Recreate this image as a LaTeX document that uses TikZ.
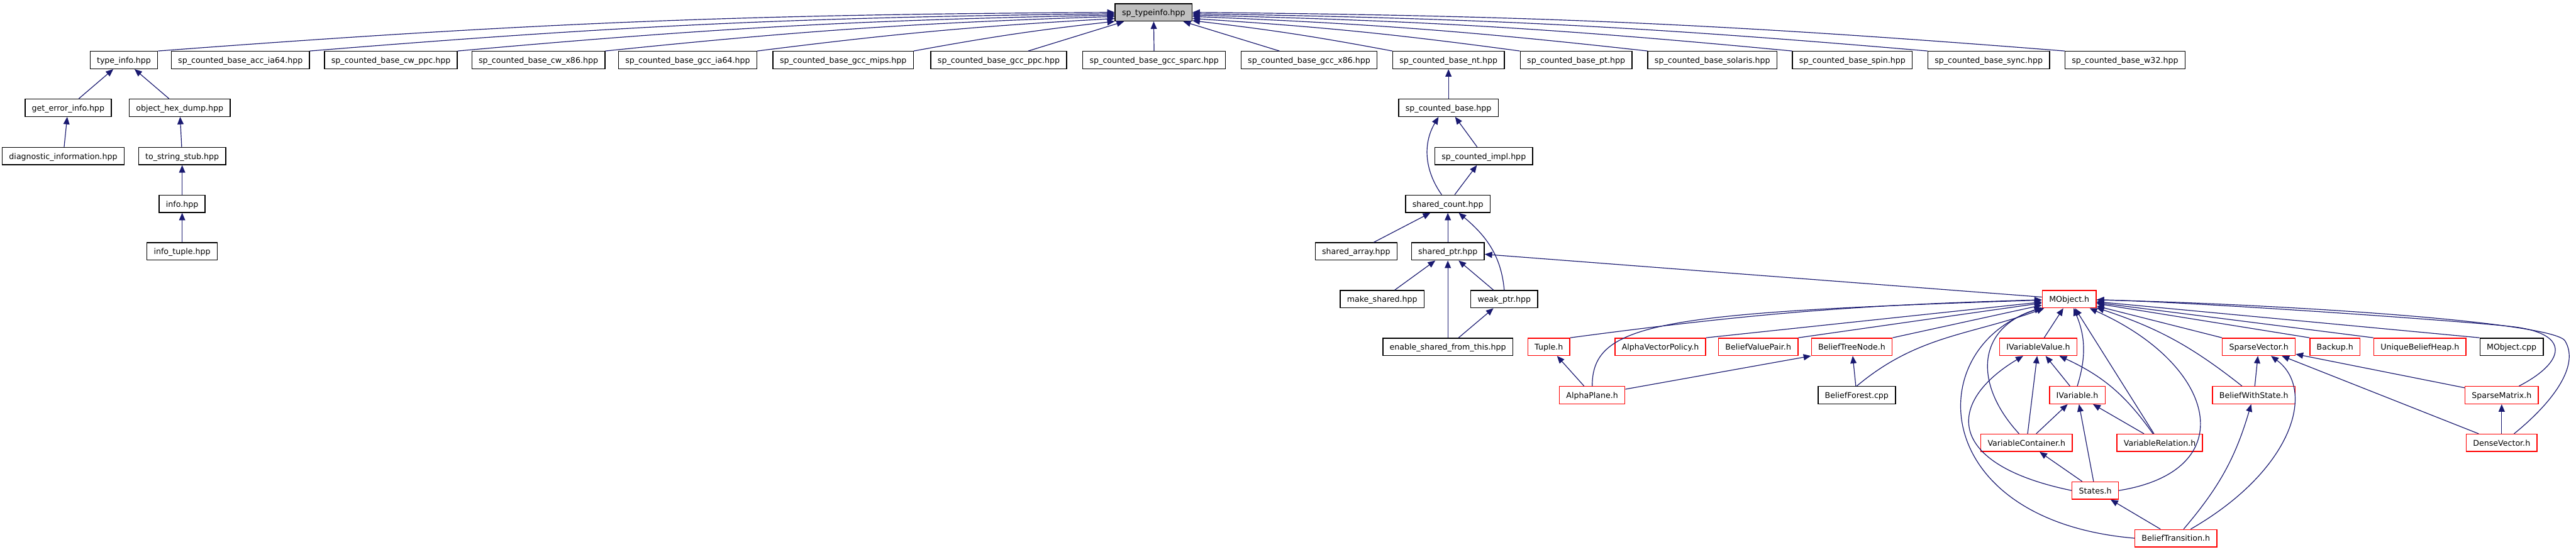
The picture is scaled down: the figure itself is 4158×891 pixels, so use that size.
\documentclass[tikz,border=0pt]{standalone}
\usepackage{fontspec}
\setmainfont{DejaVu Sans}
\usetikzlibrary{arrows.meta}

\definecolor{edgeblue}{HTML}{191970}
\definecolor{boxred}{HTML}{FF0000}
\definecolor{rootgrey}{HTML}{BFBFBF}

\tikzset{
  file/.style={draw=black, line width=0.7pt, inner xsep=5.5pt, inner ysep=0pt,
    minimum height=14pt, text height=0.75em, text depth=0.25em,
    font=\fontsize{6.4}{7.7}\selectfont},
  redfile/.style={file, draw=boxred},
  root/.style={file, fill=rootgrey},
  dep/.style={draw=edgeblue, line width=0.6pt, -{Triangle[length=6pt,width=5pt]}}
}

\begin{document}
\begin{tikzpicture}[x=0.5pt,y=-0.5pt]
  \useasboundingbox (0,0) rectangle (4158,891);

  \node[root] (spt) at (1862,20) {sp\_typeinfo.hpp};

  \node[file] (ti) at (200,97) {type\_info.hpp};
  \node[file] (acc) at (388,97) {sp\_counted\_base\_acc\_ia64.hpp};
  \node[file] (cwppc) at (631,97) {sp\_counted\_base\_cw\_ppc.hpp};
  \node[file] (cwx) at (869,97) {sp\_counted\_base\_cw\_x86.hpp};
  \node[file] (gia) at (1110,97) {sp\_counted\_base\_gcc\_ia64.hpp};
  \node[file] (gmips) at (1361,97) {sp\_counted\_base\_gcc\_mips.hpp};
  \node[file] (gppc) at (1612,97) {sp\_counted\_base\_gcc\_ppc.hpp};
  \node[file] (gsparc) at (1863,97) {sp\_counted\_base\_gcc\_sparc.hpp};
  \node[file] (gx) at (2113,97) {sp\_counted\_base\_gcc\_x86.hpp};
  \node[file] (nt) at (2338,97) {sp\_counted\_base\_nt.hpp};
  \node[file] (pt) at (2544,97) {sp\_counted\_base\_pt.hpp};
  \node[file] (sol) at (2764,97) {sp\_counted\_base\_solaris.hpp};
  \node[file] (spin) at (2990,97) {sp\_counted\_base\_spin.hpp};
  \node[file] (sync) at (3210,97) {sp\_counted\_base\_sync.hpp};
  \node[file] (w32) at (3430,97) {sp\_counted\_base\_w32.hpp};

  \node[file] (gei) at (110,174) {get\_error\_info.hpp};
  \node[file] (ohd) at (290,174) {object\_hex\_dump.hpp};
  \node[file] (diag) at (102,252) {diagnostic\_information.hpp};
  \node[file] (tss) at (294,252) {to\_string\_stub.hpp};
  \node[file] (info) at (294,329) {info.hpp};
  \node[file] (itup) at (294,406) {info\_tuple.hpp};

  \node[file] (scb) at (2338,174) {sp\_counted\_base.hpp};
  \node[file] (sci) at (2395,252) {sp\_counted\_impl.hpp};
  \node[file] (sc) at (2337,329) {shared\_count.hpp};
  \node[file] (sa) at (2189,406) {shared\_array.hpp};
  \node[file] (sp) at (2337,406) {shared\_ptr.hpp};
  \node[file] (ms) at (2231,483) {make\_shared.hpp};
  \node[file] (wp) at (2428,483) {weak\_ptr.hpp};
  \node[file] (esft) at (2337,560) {enable\_shared\_from\_this.hpp};

  \node[redfile] (mo) at (3340,483) {MObject.h};
  \node[redfile] (tu) at (2500,560) {Tuple.h};
  \node[redfile] (avp) at (2680,560) {AlphaVectorPolicy.h};
  \node[redfile] (bvp) at (2838,560) {BeliefValuePair.h};
  \node[redfile] (btn) at (2989,560) {BeliefTreeNode.h};
  \node[redfile] (ivv) at (3290,560) {IVariableValue.h};
  \node[redfile] (sv) at (3646,560) {SparseVector.h};
  \node[redfile] (bk) at (3769,560) {Backup.h};
  \node[redfile] (ubh) at (3906,560) {UniqueBeliefHeap.h};
  \node[file] (moc) at (4054,560) {MObject.cpp};
  \node[redfile] (ap) at (2570,638) {AlphaPlane.h};
  \node[file] (bf) at (2997,638) {BeliefForest.cpp};
  \node[redfile] (iv) at (3353,638) {IVariable.h};
  \node[redfile] (bws) at (3638,638) {BeliefWithState.h};
  \node[redfile] (sm) at (4038,638) {SparseMatrix.h};
  \node[redfile] (vc) at (3271,715) {VariableContainer.h};
  \node[redfile] (vr) at (3486,715) {VariableRelation.h};
  \node[redfile] (dv) at (4038,715) {DenseVector.h};
  \node[redfile] (st) at (3382,792) {States.h};
  \node[redfile] (bt) at (3512,869) {BeliefTransition.h};

  % everything that pulls in sp_typeinfo.hpp
  \draw[dep] (ti.north east) to[bend left=2] (spt.180);
  \draw[dep] (acc.north east) to[bend left=2] (spt.182);
  \draw[dep] (cwppc.north east) to[bend left=2] (spt.184);
  \draw[dep] (cwx.north east) to[bend left=2] (spt.186);
  \draw[dep] (gia.north east) to[bend left=2] (spt.189);
  \draw[dep] (gmips.north east) to[bend left=2] (spt.193);
  \draw[dep] (gppc) -- (spt);
  \draw[dep] (gsparc) -- (spt);
  \draw[dep] (gx) -- (spt);
  \draw[dep] (nt.north west) to[bend right=2] (spt.348);
  \draw[dep] (pt.north west) to[bend right=2] (spt.351);
  \draw[dep] (sol.north west) to[bend right=2] (spt.354);
  \draw[dep] (spin.north west) to[bend right=2] (spt.356);
  \draw[dep] (sync.north west) to[bend right=2] (spt.358);
  \draw[dep] (w32.north west) to[bend right=2] (spt.0);

  \draw[dep] (gei) -- (ti);
  \draw[dep] (ohd) -- (ti);
  \draw[dep] (diag) -- (gei);
  \draw[dep] (tss) -- (ohd);
  \draw[dep] (info) -- (tss);
  \draw[dep] (itup) -- (info);

  \draw[dep] (scb) -- (nt);
  \draw[dep] (sci) -- (scb);
  \draw[dep] ([xshift=-5pt]sc.north) to[bend left=33] ([xshift=-8pt]scb.south);
  \draw[dep] (sc) -- (sci);
  \draw[dep] (sa) -- (sc);
  \draw[dep] (sp) -- (sc);
  \draw[dep] (wp.north) to[out=95,in=-40] (sc);
  \draw[dep] (ms) -- (sp);
  \draw[dep] (esft) -- (sp);
  \draw[dep] (wp) -- (sp);
  \draw[dep] (esft) -- (wp);
  \draw[dep] (mo) -- (sp);

  % MObject.h and its users
  \draw[dep] (ap) -- (tu);
  \draw[dep] (tu.north east) to[bend left=3] (mo);
  \draw[dep] (ap.north) .. controls (2570,520) and (2680,505) .. (mo);
  \draw[dep] (avp.north east) -- (mo);
  \draw[dep] (bvp.north east) -- (mo);
  \draw[dep] (btn.north east) -- (mo);
  \draw[dep] (ap) -- (btn.south west);
  \draw[dep] (bf) -- (btn);
  \draw[dep] (bf.north) to[out=40,in=200] (mo);
  \draw[dep] (ivv) -- (mo);
  \draw[dep] (iv.north) to[bend right=20] (mo);
  \draw[dep] (iv) -- (ivv);
  \draw[dep] (vc) -- (ivv);
  \draw[dep] (vc) -- (iv);
  \draw[dep] ([xshift=-6pt]vc.north) .. controls (3185,620) and (3190,530) .. (mo);
  \draw[dep] (vr) to[bend right=15] (ivv);
  \draw[dep] (vr) -- (iv);
  \draw[dep] (vr) -- (mo);
  \draw[dep] (st) -- (iv);
  \draw[dep] (st) -- (vc);
  \draw[dep] (st.west) .. controls (3140,750) and (3140,650) .. (ivv);
  \draw[dep] (st.east) .. controls (3620,760) and (3580,590) .. (mo);
  \draw[dep] (bt) -- (st);
  \draw[dep] (bt.west) .. controls (3110,840) and (3100,560) .. (mo);
  \draw[dep] (bt) to[bend right=12] (bws);
  \draw[dep] ([xshift=12pt]bt.north) .. controls (3700,760) and (3740,630) .. (sv);
  \draw[dep] (bws) -- (sv);
  \draw[dep] (bws) to[bend right=10] (mo);
  \draw[dep] (sm) -- (sv);
  \draw[dep] (dv) -- (sv);
  \draw[dep] (dv) -- (sm);
  \draw[dep] ([xshift=14pt]sm.north) .. controls (4140,585) and (4150,540) .. (4060,528)
    .. controls (4000,520) and (3550,488) .. (mo);
  \draw[dep] ([xshift=10pt]dv.north) .. controls (4120,650) and (4165,590) .. (4140,550)
    .. controls (4118,520) and (3700,492) .. (mo);
  \draw[dep] (sv.north west) -- (mo);
  \draw[dep] (bk.north west) -- (mo);
  \draw[dep] (ubh.north west) -- (mo);
  \draw[dep] (moc.north west) -- (mo);
\end{tikzpicture}
\end{document}
